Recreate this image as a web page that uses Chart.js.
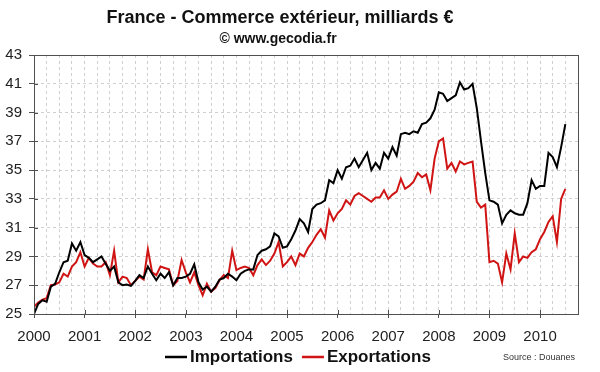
<!DOCTYPE html>
<html>
<head>
<meta charset="utf-8">
<script src="https://cdn.jsdelivr.net/npm/chart.js@4.4.1/dist/chart.umd.min.js"></script>
<style>
  html, body { margin: 0; padding: 0; background: #fff; }
  #wrap { width: 600px; height: 372px; }
</style>
</head>
<body>
<div id="wrap"><canvas id="trade-chart" width="600" height="372"></canvas></div>
<script>
// monthly values, Jan 2000 .. Jul 2010, billions of euros
const imports = [
  25.0, 25.7, 25.95, 25.85, 26.9, 27.1, 27.9, 28.6, 28.7, 29.9, 29.4, 30.0,
  29.1, 28.9, 28.6, 28.8, 29.0, 28.5, 28.0, 28.3, 27.2, 27.0, 27.05, 26.95,
  27.3, 27.7, 27.5, 28.3, 27.8, 27.35, 27.8, 27.5, 27.9, 27.0, 27.5, 27.5,
  27.6, 27.8, 28.45, 27.2, 26.7, 26.9, 26.55, 26.9, 27.4, 27.5, 27.8, 27.6,
  27.35, 27.8, 28.0, 28.1, 28.1, 29.1, 29.4, 29.5, 29.7, 30.6, 30.4, 29.6,
  29.7, 30.2, 30.8, 31.6, 31.3, 30.7, 32.3, 32.6, 32.7, 32.9, 34.3, 34.1,
  35.0, 34.4, 35.2, 35.3, 35.8, 35.2, 35.7, 36.2, 35.0, 35.5, 35.1, 36.2,
  35.8, 36.6, 36.0, 37.5, 37.6, 37.5, 37.7, 37.6, 38.2, 38.3, 38.6, 39.2,
  40.4, 40.3, 39.8, 40.0, 40.2, 41.1, 40.6, 40.7, 41.0, 39.3, 37.0, 34.8,
  32.9, 32.8, 32.6, 31.3, 31.9, 32.2, 32.0, 31.9, 31.9, 32.7, 34.3, 33.7,
  33.9, 33.9, 36.2, 35.9, 35.2, 36.6, 38.2
];
const exports = [
  25.5, 25.8, 26.0, 26.1, 27.0, 27.05, 27.2, 27.8, 27.6, 28.3, 28.6, 29.3,
  28.3, 28.9, 28.5, 28.3, 28.3, 28.6, 27.7, 29.4, 27.2, 27.6, 27.5, 27.0,
  27.3, 27.6, 27.4, 29.5, 27.9, 27.7, 28.3, 28.2, 28.1, 27.0, 27.3, 28.75,
  27.9, 27.2, 27.9, 27.0, 26.3, 27.1, 26.55, 26.8, 27.35, 27.7, 27.5, 29.4,
  28.05, 28.2, 28.3, 28.2, 27.7, 28.4, 28.8, 28.4, 28.7, 29.2, 30.0, 28.3,
  28.6, 29.0, 28.4, 29.2, 29.0, 29.6, 30.0, 30.5, 30.9, 30.3, 32.2, 31.5,
  32.0, 32.3, 32.9, 32.6, 33.2, 33.4, 33.2, 33.0, 32.8, 33.1, 33.1, 33.6,
  33.0, 33.3, 33.5, 34.4, 33.7, 33.9, 34.2, 34.8, 34.5, 34.7, 33.6, 35.8,
  37.0, 37.2, 35.1, 35.5, 34.9, 35.6, 35.4, 35.5, 35.6, 32.8, 32.4, 32.6,
  28.6, 28.7, 28.5, 27.2, 29.2, 28.1, 30.6, 28.6, 29.0, 28.9, 29.3, 29.5,
  30.2, 30.7, 31.4, 31.8, 30.0, 33.0, 33.7
];
const yearLabels = ['2000', '2001', '2002', '2003', '2004', '2005', '2006', '2007', '2008', '2009', '2010'];
const seriesNames = ['Importations', 'Exportations'];

const FONT = '"Liberation Sans", Arial, sans-serif';
const AXIS = '#505050';

// box, inner tick stubs, titles, legend and source note
const textPlugin = {
  id: 'texts',
  afterDraw(chart) {
    const ctx = chart.ctx;
    const area = chart.chartArea;
    const xs = chart.scales.x, ys = chart.scales.y;
    ctx.save();
    ctx.strokeStyle = AXIS;
    ctx.lineWidth = 1;
    ctx.strokeRect(Math.round(area.left) + 0.5, Math.round(area.top) + 0.5,
      Math.round(area.right - area.left), Math.round(area.bottom - area.top));
    // ticks cross the axis lines a little
    ctx.beginPath();
    yearLabels.forEach((l, i) => {
      const px = Math.round(xs.getPixelForValue(i * 12)) + 0.5;
      ctx.moveTo(px, area.bottom);
      ctx.lineTo(px, area.bottom - 4);
    });
    ys.ticks.forEach(t => {
      const py = Math.round(ys.getPixelForValue(t.value)) + 0.5;
      ctx.moveTo(area.left, py);
      ctx.lineTo(area.left + 4, py);
    });
    ctx.stroke();

    ctx.fillStyle = '#111';
    ctx.textAlign = 'center';
    ctx.textBaseline = 'middle';
    ctx.font = 'bold 18px ' + FONT;
    ctx.fillText('France - Commerce extérieur, milliards €', 280, 18);
    ctx.font = 'bold 14px ' + FONT;
    ctx.fillText('© www.gecodia.fr', 278, 39);

    // legend
    ctx.font = 'bold 17px ' + FONT;
    ctx.textAlign = 'left';
    let x = 165;
    const ly = 357;
    chart.data.datasets.forEach((ds, i) => {
      ctx.strokeStyle = ds.borderColor;
      ctx.lineWidth = 2.5;
      ctx.beginPath();
      ctx.moveTo(x, ly);
      ctx.lineTo(x + 22, ly);
      ctx.stroke();
      ctx.fillStyle = '#111';
      ctx.fillText(ds.label, x + 25, ly);
      x += 25 + ctx.measureText(ds.label).width + 9;
    });

    ctx.font = '9px ' + FONT;
    ctx.fillStyle = '#333';
    ctx.textAlign = 'right';
    ctx.fillText('Source : Douanes', 575, 358);
    ctx.restore();
  }
};

const toPoints = arr => arr.map((v, i) => ({ x: i, y: v }));

new Chart(document.getElementById('trade-chart').getContext('2d'), {
  type: 'line',
  data: {
    datasets: [
      { label: seriesNames[0], data: toPoints(imports), borderColor: '#000000', backgroundColor: '#000000', borderWidth: 2, pointRadius: 0, tension: 0 },
      { label: seriesNames[1], data: toPoints(exports), borderColor: '#d01414', backgroundColor: '#d01414', borderWidth: 2, pointRadius: 0, tension: 0 }
    ]
  },
  options: {
    responsive: false,
    animation: false,
    layout: { padding: { left: 0, right: 22, top: 55, bottom: 0 } },
    plugins: {
      title: { display: false },
      tooltip: { enabled: false },
      legend: { display: false }
    },
    scales: {
      x: {
        type: 'linear',
        min: 0,
        max: 129,
        afterFit: s => { s.height = 58; },
        ticks: {
          stepSize: 3,
          autoSkip: false,
          maxRotation: 0,
          padding: 10,
          color: '#222',
          font: { family: FONT, size: 15 },
          callback: v => (v % 12 === 0 ? yearLabels[v / 12] : '')
        },
        grid: {
          color: '#d0d0d0',
          tickLength: 4,
          tickColor: c => (c.tick && c.tick.value % 12 === 0 ? AXIS : 'rgba(0,0,0,0)')
        },
        border: { color: AXIS, dash: [3, 3] }
      },
      y: {
        min: 25,
        max: 43,
        afterFit: s => { s.width = 34; },
        ticks: {
          stepSize: 2,
          padding: 7,
          color: '#222',
          font: { family: FONT, size: 15 }
        },
        grid: { color: '#d0d0d0', tickLength: 5, tickColor: AXIS },
        border: { color: AXIS, dash: [3, 3] }
      }
    }
  },
  plugins: [textPlugin]
});
</script>
</body>
</html>
